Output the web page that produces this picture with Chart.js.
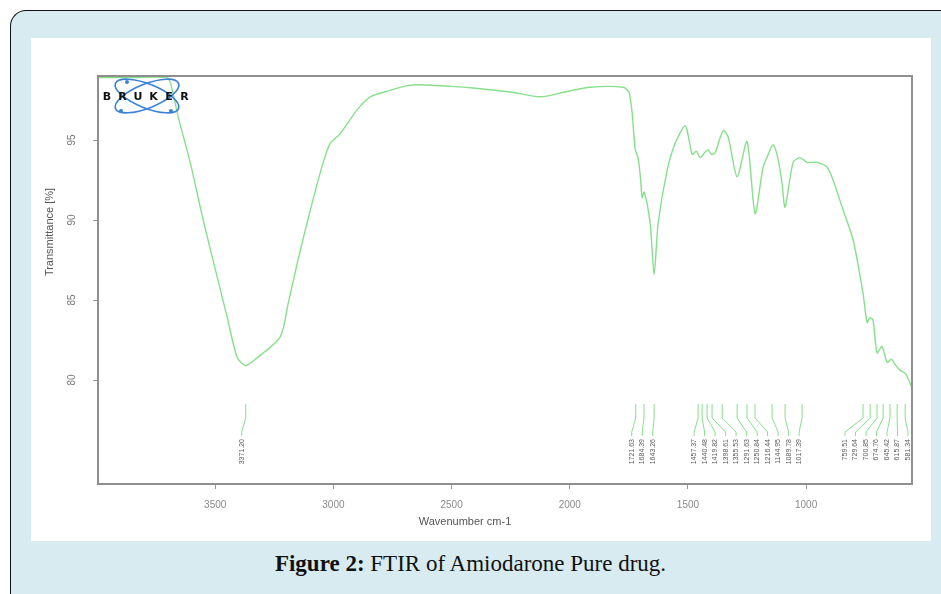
<!DOCTYPE html>
<html>
<head>
<meta charset="utf-8">
<script src="https://cdn.jsdelivr.net/npm/chart.js@4.4.0/dist/chart.umd.min.js"></script>
<style>
  html, body { margin: 0; padding: 0; width: 941px; height: 594px; overflow: hidden; background: #ffffff; }
  #frame { position: absolute; left: 10px; top: 10px; width: 980px; height: 640px;
           background: #d7ebf1; border-top: 1.5px solid #111; border-left: 1.5px solid #111;
           border-top-left-radius: 16px; }
  #panel { position: absolute; left: 31px; top: 38px; width: 900px; height: 503px; background: #ffffff; }
  #caption { position: absolute; left: 0; top: 551px; width: 941px; text-align: center;
             font-family: "Liberation Serif", "DejaVu Serif", serif; font-size: 23px; color: #111; }
</style>
</head>
<body>
<div id="frame"></div>
<div id="panel"><canvas id="c" width="900" height="503"></canvas></div>
<div id="caption"><b>Figure 2:</b> FTIR of Amiodarone Pure drug.</div>
<script>
// ---- data ----
const wavenumbers = [3996,3850,3703,3680,3656,3606,3551,3491,3449,3407,3371,3330,3225,3191,3153,3098,3043,3013,2971,2899,2844,2760,2688,2633,2500,2409,2250,2125,2020,1914,1774,1750,1745,1736,1723,1711,1700,1694,1685,1660,1643,1626,1588,1554,1512,1495,1482,1465,1448,1430,1415,1400,1385,1351,1330,1292,1250,1216,1182,1160,1140,1120,1102,1089,1055,1025,996,953,911,886,843,801,759,742,730,717,700,679,657,640,620,602,580,560,552];
const transmittance = [98.9,98.9,98.9,98.0,96.4,93.6,90.0,86.4,83.9,81.4,80.9,81.3,82.7,84.8,87.3,90.6,93.6,94.8,95.4,96.9,97.7,98.1,98.4,98.45,98.35,98.25,98.0,97.7,98.0,98.3,98.3,98.0,97.7,96.7,94.4,93.9,92.5,91.4,91.75,89.8,86.6,89.8,93.1,94.8,95.9,95.0,94.1,94.3,93.9,94.2,94.4,94.1,94.2,95.6,95.2,92.7,94.9,90.4,93.3,94.1,94.7,93.9,92.3,90.8,93.6,93.9,93.6,93.6,93.3,92.5,90.6,88.75,85.4,83.6,83.9,83.75,81.7,82.1,81.1,81.3,80.9,80.6,80.4,79.8,79.5];
const xTicks = [3500,3000,2500,2000,1500,1000];
const yTicks = [80,85,90,95];
const peakPositions = [3371,1721,1686,1643,1457,1440,1419,1398,1355,1292,1250,1216,1144,1089,1017,759,729,700,674,645,615,581];
const peakLabels = ["3371.20","1721.63","1684.39","1643.26","1457.37","1440.48","1419.82","1398.61","1355.53","1291.63","1250.84","1216.44","1144.95","1089.78","1017.39","759.51","729.64","700.85","674.76","645.42","615.87","581.34"];
const xTitle = "Wavenumber cm-1";
const yTitle = "Transmittance [%]";
const logoText = "BRUKER";

const points = wavenumbers.map((w, i) => ({ x: w, y: transmittance[i] }));

const decor = {
  id: 'decor',
  afterDraw(chart) {
    const ctx = chart.ctx, a = chart.chartArea;
    const xs = chart.scales.x, ys = chart.scales.y;
    ctx.save();
    // box
    ctx.strokeStyle = '#8e8e8e'; ctx.lineWidth = 2;
    ctx.strokeRect(a.left, a.top, a.right - a.left, a.bottom - a.top);
    // y tick labels (rotated)
    ctx.fillStyle = '#7a7a7a';
    ctx.font = '10px "Liberation Sans", Arial, sans-serif';
    ctx.textAlign = 'center'; ctx.textBaseline = 'middle';
    ys.ticks.forEach(t => {
      const py = ys.getPixelForValue(t.value);
      ctx.save(); ctx.translate(a.left - 26, py); ctx.rotate(-Math.PI / 2);
      ctx.fillText(String(t.value), 0, 0); ctx.restore();
    });
    // titles
    ctx.fillStyle = '#555';
    ctx.font = '11px "Liberation Sans", Arial, sans-serif';
    ctx.save(); ctx.translate(a.left - 48, a.top + 156); ctx.rotate(-Math.PI / 2);
    ctx.fillText(yTitle, 0, 0); ctx.restore();
    ctx.fillText(xTitle, a.left + 367, a.bottom + 38);
    // peak annotations
    const gap = 10.5;
    const px = peakPositions.map(w => xs.getPixelForValue(w));
    const order = px.map((p, i) => i).sort((i, j) => px[i] - px[j]);
    const lx = new Array(px.length);
    let prev = -1e9;
    order.forEach(i => { lx[i] = Math.max(px[i] - 4, prev + gap); prev = lx[i]; });
    let next = a.right - 4;
    for (let k = order.length - 1; k >= 0; k--) {
      const i = order[k];
      if (lx[i] > next) lx[i] = next;
      next = lx[i] - gap;
    }
    const yTop = a.top + 328, yMid = a.top + 342, yBot = a.top + 356, yLab = a.top + 363;
    ctx.strokeStyle = '#86e08a'; ctx.lineWidth = 1;
    ctx.fillStyle = '#5a5a5a';
    ctx.font = '7px "Liberation Sans", Arial, sans-serif';
    ctx.textAlign = 'right'; ctx.textBaseline = 'middle';
    peakPositions.forEach((w, i) => {
      ctx.beginPath();
      ctx.moveTo(px[i], yTop); ctx.lineTo(px[i], yMid); ctx.lineTo(lx[i], yBot); ctx.lineTo(lx[i], yBot + 4);
      ctx.stroke();
      ctx.save(); ctx.translate(lx[i], yLab); ctx.rotate(-Math.PI / 2);
      ctx.fillText(peakLabels[i], 0, 0); ctx.restore();
    });
    // logo
    const cx = a.left + 49, cy = a.top + 20;
    ctx.strokeStyle = '#3b82d6'; ctx.lineWidth = 1.6;
    [0.38, -0.38].forEach(r => {
      ctx.beginPath(); ctx.ellipse(cx, cy, 34, 12, r, 0, Math.PI * 2); ctx.stroke();
    });
    ctx.fillStyle = '#3b82d6';
    [[cx - 26, cy + 15], [cx + 24, cy + 15], [cx - 20, cy - 14]].forEach(p => {
      ctx.beginPath(); ctx.arc(p[0], p[1], 2, 0, Math.PI * 2); ctx.fill();
    });
    ctx.fillStyle = '#111';
    ctx.font = 'bold 11px "DejaVu Sans", Arial, sans-serif';
    ctx.textAlign = 'center'; ctx.textBaseline = 'middle';
    for (let k = 0; k < logoText.length; k++) ctx.fillText(logoText[k], a.left + 9 + k * 15.5, cy + 1);
    ctx.restore();
  }
};

new Chart(document.getElementById('c'), {
  type: 'line',
  data: { datasets: [{ data: points, borderColor: '#86e08a', borderWidth: 1.4, pointRadius: 0, tension: 0.25, fill: false }] },
  options: {
    responsive: false, animation: false, events: [],
    layout: { padding: { left: 0, top: 38, right: 19, bottom: 0 } },
    plugins: { legend: { display: false }, tooltip: { enabled: false } },
    scales: {
      x: {
        type: 'linear', reverse: true, min: 552, max: 3996,
        afterBuildTicks: s => { s.ticks = xTicks.map(v => ({ value: v })); },
        afterFit: s => { s.height = 57; },
        border: { display: false },
        grid: { drawOnChartArea: false, drawTicks: true, tickLength: 5, color: '#999' },
        ticks: { color: '#8a8a8a', font: { size: 10, family: '"Liberation Sans", Arial, sans-serif' }, padding: 10, maxRotation: 0,
                 callback: v => String(v) }
      },
      y: {
        type: 'linear', min: 73.5, max: 99,
        afterBuildTicks: s => { s.ticks = yTicks.map(v => ({ value: v })); },
        afterFit: s => { s.width = 67; },
        border: { display: false },
        grid: { drawOnChartArea: false, drawTicks: true, tickLength: 5, color: '#999' },
        ticks: { display: false }
      }
    }
  },
  plugins: [decor]
});
</script>
</body>
</html>
